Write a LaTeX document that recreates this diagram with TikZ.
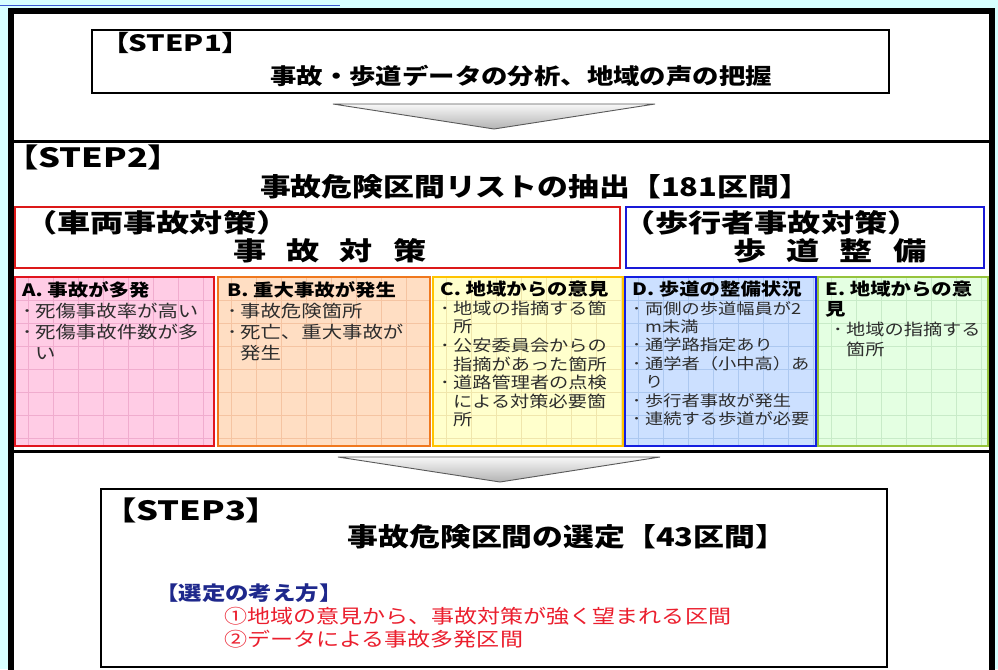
\documentclass[tikz,border=0pt]{standalone}
\usepackage{fontspec}
\newfontfamily\jp[FakeStretch=1.2]{Noto Sans CJK JP}
\newfontfamily\jpw[FakeStretch=1.3]{Noto Sans CJK JP}
\newfontfamily\jpstep[FakeStretch=1.3,RawFeature=+palt]{Noto Sans CJK JP}

\definecolor{bgcyan}{RGB}{215,255,255}
\definecolor{topblue}{RGB}{60,90,210}
\definecolor{lineA}{RGB}{225,20,30}
\definecolor{fillA}{RGB}{255,204,229}
\definecolor{gridA}{RGB}{240,172,206}
\definecolor{lineB}{RGB}{240,120,30}
\definecolor{fillB}{RGB}{255,222,195}
\definecolor{gridB}{RGB}{245,196,162}
\definecolor{lineC}{RGB}{255,195,0}
\definecolor{fillC}{RGB}{255,255,204}
\definecolor{gridC}{RGB}{240,230,172}
\definecolor{lineD}{RGB}{20,30,225}
\definecolor{fillD}{RGB}{204,224,255}
\definecolor{gridD}{RGB}{172,200,240}
\definecolor{lineE}{RGB}{150,195,60}
\definecolor{fillE}{RGB}{228,255,226}
\definecolor{gridE}{RGB}{200,235,200}
\definecolor{navy}{RGB}{30,40,140}
\definecolor{redtxt}{RGB}{235,30,45}
\definecolor{boxred}{RGB}{220,25,25}
\definecolor{boxblue}{RGB}{25,25,215}
\definecolor{txtgray}{RGB}{45,45,45}

\newcommand\bl{\makebox[13pt][l]{･}}
\newcommand\ind{\hspace*{13pt}}
\newcommand\ttl[1]{{\bfseries\color{black}\fontsize{17}{17}\selectfont #1}}

\tikzset{
  framebar/.style={line width=6.5},
  sepline/.style={line width=3},
  stepbox/.style={draw=black, line width=2.5},
  chev/.style={top color=gray!6, bottom color=gray!60, draw=black!65, line width=0.9},
  steplab/.style={inner sep=0, anchor=west, font=\jpstep\bfseries\fontsize{26.5}{26.5}\selectfont},
  titletxt/.style={inner sep=0, font=\jp\bfseries\fontsize{25.7}{25.7}\selectfont},
  cattxt/.style={inner sep=0, font=\jpw\bfseries\fontsize{25.5}{25.5}\selectfont},
  boxtxt/.style={inner sep=0, anchor=north west, align=left, text=txtgray},
}

\begin{document}
\begin{tikzpicture}[x=1pt,y=-1pt]
\fill[bgcyan] (0,0) rectangle (998,669);
\useasboundingbox (0,0) rectangle (998,669);
\draw[topblue, line width=1.5] (0,5.5) -- (340,5.5);
\fill[white] (11,11) rectangle (992,669);
\draw[framebar] (11,670) -- (11,11) -- (992,11) -- (992,670);

% separators
\draw[sepline] (14,141) -- (989,141);
\draw[sepline] (14,451) -- (989,451);

% STEP1
\draw[stepbox] (92,30) rectangle (889,93);
\node[steplab, font=\jpstep\bfseries\fontsize{22.5}{22.5}\selectfont] (s1l) at (114,43) {【STEP1】};
\node[titletxt, font=\jp\bfseries\fontsize{22}{22}\selectfont] (s1t) at (521,76) {事故・歩道データの分析、地域の声の把握};
\draw[chev] (333,104) -- (655,104) -- (494,129) -- cycle;

% STEP2
\node[steplab] (s2l) at (21,157) {【STEP2】};
\node[titletxt] (s2t) at (535,187) {事故危険区間リストの抽出【181区間】};

\draw[boxred, line width=2.5] (15,207) rectangle (620,268);
\draw[boxblue, line width=2.5] (626,207) rectangle (984,268);
\node[cattxt, anchor=west] (c1) at (24,223) {（車両事故対策）};
\node[cattxt] (c1b) at (330,251) {事\hspace{20pt}故\hspace{20pt}対\hspace{20pt}策};
\node[cattxt, anchor=west] (c2) at (622,223) {（歩行者事故対策）};
\node[cattxt] (c2b) at (830,251) {歩\hspace{20pt}道\hspace{20pt}整\hspace{20pt}備};

% five boxes
\foreach \xa/\xb/\fc/\gc/\lc in {15/214/fillA/gridA/lineA, 218/430/fillB/gridB/lineB, 433/623/fillC/gridC/lineC, 625/816/fillD/gridD/lineD, 818/988/fillE/gridE/lineE}{
  \fill[\fc] (\xa,277) rectangle (\xb,446);
  \begin{scope}
    \clip (\xa,277) rectangle (\xb,446);
    \foreach \gx in {13,38,...,213} \draw[\gc, line width=0.7] (\xa+\gx,277) -- (\xa+\gx,446);
    \foreach \gy in {300,323,...,440} \draw[\gc, line width=0.7] (\xa,\gy) -- (\xb,\gy);
  \end{scope}
  \draw[\lc, line width=2.5] (\xa,277) rectangle (\xb,446);
}

\node[boxtxt, font=\jp\fontsize{17}{21}\selectfont] (ta) at (22,281)
  {\ttl{A. 事故が多発}\\\bl 死傷事故率が高い\\\bl 死傷事故件数が多\\\ind い};
\node[boxtxt, font=\jp\fontsize{17}{21}\selectfont] (tb) at (227,281)
  {\ttl{B. 重大事故が発生}\\\bl 事故危険箇所\\\bl 死亡、重大事故が\\\ind 発生};
\node[boxtxt, font=\jp\fontsize{16}{18.6}\selectfont] (tc) at (440,281)
  {\ttl{C. 地域からの意見}\\\bl 地域の指摘する箇\\\ind 所\\\bl 公安委員会からの\\\ind 指摘があった箇所\\\bl 道路管理者の点検\\\ind による対策必要箇\\\ind 所};
\node[boxtxt, font=\jp\fontsize{15.2}{18.4}\selectfont] (td) at (632,281)
  {\ttl{D. 歩道の整備状況}\\\bl 両側の歩道幅員が2\\\ind m未満\\\bl 通学路指定あり\\\bl 通学者（小中高）あ\\\ind り\\\bl 歩行者事故が発生\\\bl 連続する歩道が必要};
\node[boxtxt, font=\jp\fontsize{16}{20}\selectfont] (te) at (825,281)
  {\ttl{E. 地域からの意}\\\ttl{見}\\\hspace*{8pt}\bl 地域の指摘する\\\hspace*{21pt}箇所};

\draw[chev] (338,457) -- (660,457) -- (500,482) -- cycle;

% STEP3
\draw[stepbox] (101,489) rectangle (887,667);
\node[steplab] (s3l) at (119,510) {【STEP3】};
\node[titletxt] (s3t) at (567,537) {事故危険区間の選定【43区間】};
\node[inner sep=0, anchor=west, font=\jp\bfseries\fontsize{19.5}{19.5}\selectfont, text=navy] (s3k) at (155,593) {【選定の考え方】};
\node[inner sep=0, anchor=west, font=\jp\fontsize{19.2}{19.2}\selectfont, text=redtxt] (s3a) at (224,616) {①地域の意見から、事故対策が強く望まれる区間};
\node[inner sep=0, anchor=west, font=\jp\fontsize{19.2}{19.2}\selectfont, text=redtxt] (s3b) at (224,639) {②データによる事故多発区間};
\end{tikzpicture}
\end{document}
